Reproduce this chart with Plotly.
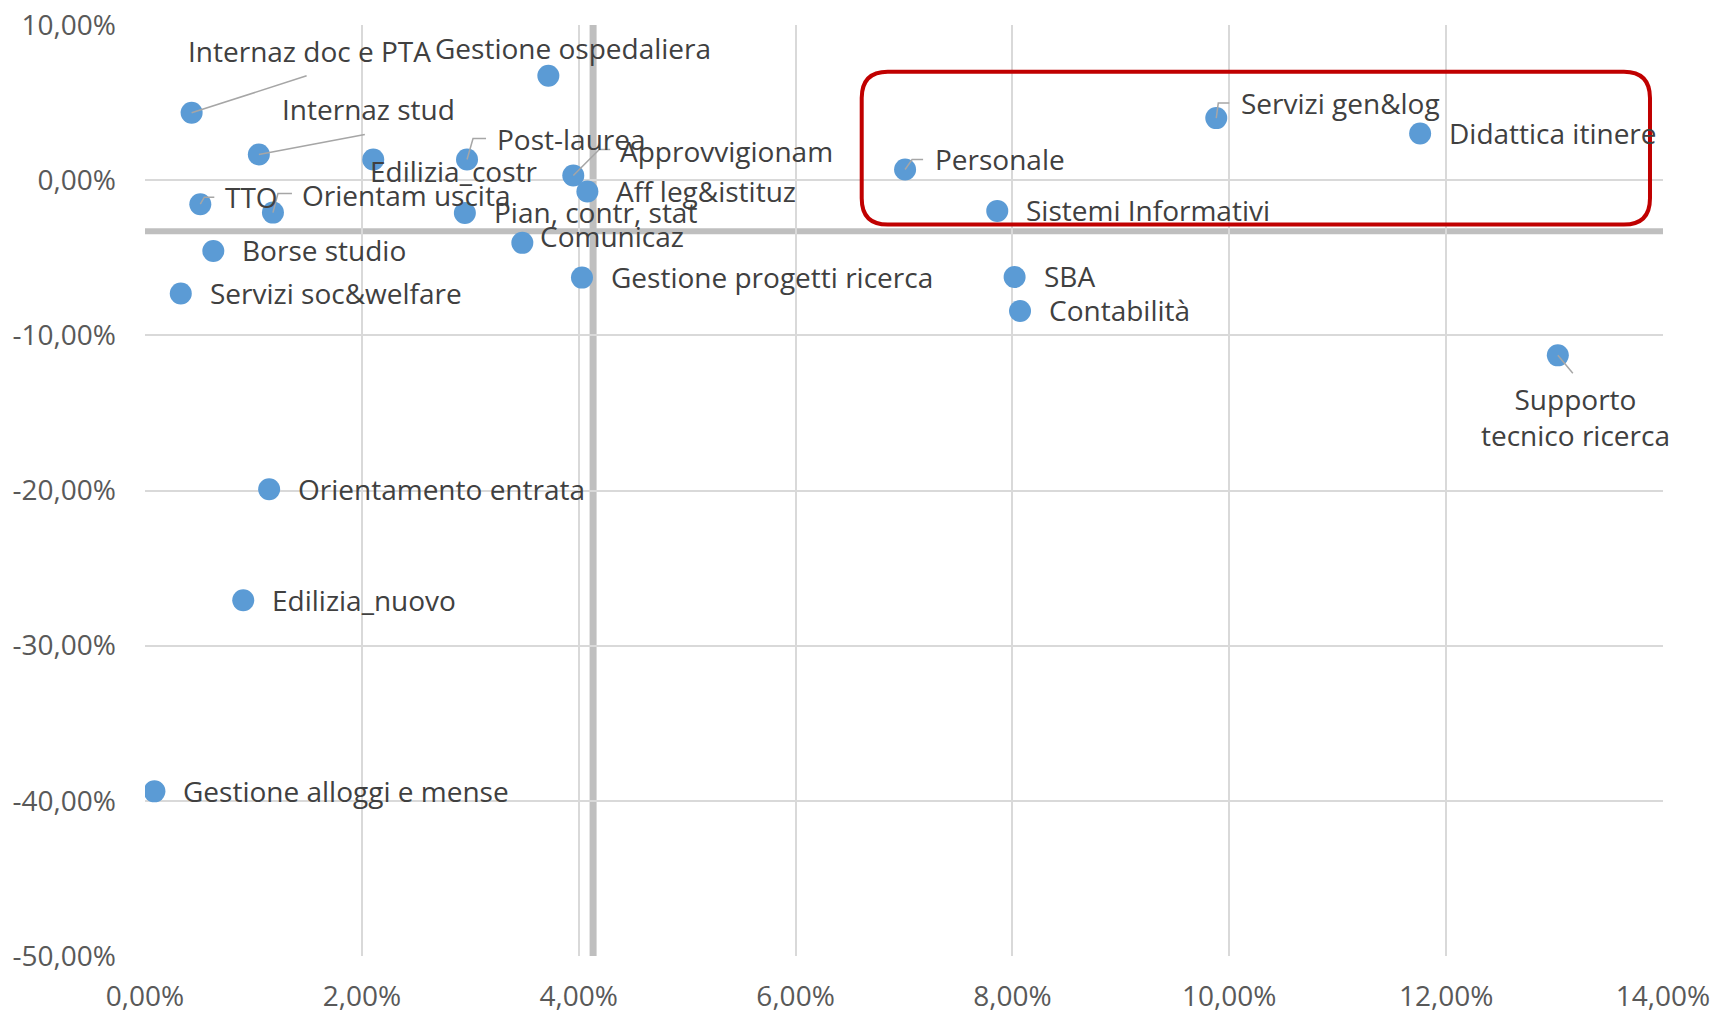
import numpy as np
import plotly.graph_objects as go

# ---------------- data ----------------
names = [
    "Internaz doc e PTA", "Gestione ospedaliera", "Internaz stud", "Post-laurea",
    "Edilizia_costr", "Approvvigionam", "Aff leg&istituz", "TTO",
    "Orientam uscita", "Pian, contr, stat", "Comunicaz", "Borse studio",
    "Servizi soc&welfare", "Gestione progetti ricerca", "Personale", "Servizi gen&log",
    "Didattica itinere", "Sistemi Informativi", "SBA", "Contabilità",
    "Supporto<br>tecnico ricerca", "Orientamento entrata", "Edilizia_nuovo",
    "Gestione alloggi e mense",
]
x_vals = [
    0.0043, 0.0372, 0.0105, 0.0297,
    0.02105, 0.0395, 0.0408, 0.0051,
    0.0118, 0.0295, 0.0348, 0.0063,
    0.0033, 0.0403, 0.0701, 0.0988,
    0.1176, 0.0786, 0.0802, 0.0807,
    0.1303, 0.01145, 0.00906, 0.00087,
]
y_vals = [
    0.0434, 0.0673, 0.0166, 0.0133,
    0.0133, 0.0030, -0.0073, -0.0155,
    -0.0209, -0.0211, -0.0404, -0.0456,
    -0.0731, -0.0628, 0.0069, 0.0400,
    0.0301, -0.0198, -0.0624, -0.0843,
    -0.1129, -0.1992, -0.2707, -0.3939,
]
y_ref = -0.033          # horizontal reference line
x_ticks = [0.0, 0.02, 0.04, 0.06, 0.08, 0.10, 0.12, 0.14]
y_ticks = [-0.5, -0.4, -0.3, -0.2, -0.1, 0.0, 0.1]

# ---------------- label layout (pixel offsets) ----------------
DEFAULT = dict(dx=27, dy=0.5, anchor="left", leader=None)
label_layout = {
    "Internaz doc e PTA": dict(dx=-6, dy=61.5, leader="M 0 0 L 115 37"),
    "Gestione ospedaliera": dict(dx=-115, dy=27.5),
    "Internaz stud": dict(dx=21, dy=45.5, leader="M 0 0 L 106 20"),
    "Post-laurea": dict(dx=28, dy=20.5, leader="M 0 0 L 6 21 L 19 21"),
    "Edilizia_costr": dict(dx=-5, dy=-11.5),
    "Approvvigionam": dict(dx=45, dy=24.5, leader="M 0 0 L 26 26 L 37 26"),
    "TTO": dict(dx=23, dy=7.5, leader="M 0 0 L 4 7 L 14 7"),
    "Orientam uscita": dict(dx=27, dy=17.5, leader="M 0 0 L 5 19 L 19 19"),
    "Comunicaz": dict(dx=16, dy=6.5),
    "Personale": dict(dx=28, dy=10.5, leader="M 0 0 L 7 10 L 18 10"),
    "Servizi gen&log": dict(dx=23, dy=15.5, leader="M 0 0 L 2 15 L 13 15"),
    "Supporto<br>tecnico ricerca": dict(dx=18, dy=-61.5, anchor="center",
                                        leader="M 0 0 L 15 -18"),
}

FONT = "Open Sans"
LABEL_COLOR = "#404040"
TICK_COLOR = "#595959"
GRID = "#D9D9D9"

fig = go.Figure()
fig.add_trace(go.Scatter(
    x=x_vals, y=y_vals, mode="markers",
    marker=dict(size=22, color="#5B9BD5", line=dict(width=0)),
    hovertext=names, hoverinfo="text", showlegend=False,
))

annotations = []
shapes = []

# reference lines
x_ref = float(np.mean(x_vals))
shapes.append(dict(type="line", xref="x", yref="paper", x0=x_ref, x1=x_ref, y0=0, y1=1,
                   line=dict(color="#BFBFBF", width=7), layer="below"))
shapes.append(dict(type="line", xref="paper", yref="y", x0=0, x1=1, y0=y_ref, y1=y_ref,
                   line=dict(color="#BFBFBF", width=6), layer="below"))

for n, xv, yv in zip(names, x_vals, y_vals):
    spec = dict(DEFAULT)
    spec.update(label_layout.get(n, {}))
    annotations.append(dict(
        x=xv, y=yv, xref="x", yref="y", text=n, showarrow=False,
        xanchor=spec["anchor"], yanchor="middle",
        xshift=spec["dx"], yshift=spec["dy"],
        font=dict(family=FONT, size=28, color=LABEL_COLOR),
        align="center",
    ))
    if spec["leader"]:
        shapes.append(dict(type="path", xref="x", yref="y",
                           xsizemode="pixel", ysizemode="pixel",
                           xanchor=xv, yanchor=yv, path=spec["leader"],
                           line=dict(color="#A6A6A6", width=1.5), layer="above"))

# red rounded highlight box (data coordinates)
bx0, bx1, by0, by1 = 0.0661, 0.1388, -0.0286, 0.0699
rx, ry = 0.0024, 0.017
box_path = (
    f"M {bx0+rx} {by1} L {bx1-rx} {by1} Q {bx1} {by1} {bx1} {by1-ry} "
    f"L {bx1} {by0+ry} Q {bx1} {by0} {bx1-rx} {by0} "
    f"L {bx0+rx} {by0} Q {bx0} {by0} {bx0} {by0+ry} "
    f"L {bx0} {by1-ry} Q {bx0} {by1} {bx0+rx} {by1} Z"
)
shapes.append(dict(type="path", xref="x", yref="y", path=box_path,
                   line=dict(color="#C00000", width=4), layer="above"))


def pct(v):
    return f"{v*100:.2f}".replace(".", ",") + "%"


fig.update_layout(
    template="none",
    width=1715, height=1013,
    margin=dict(l=145, r=52, t=25, b=57, autoexpand=False),
    plot_bgcolor="white", paper_bgcolor="white",
    font=dict(family=FONT, color=TICK_COLOR),
    shapes=shapes, annotations=annotations,
    xaxis=dict(range=[0, 0.14], tickvals=x_ticks, ticktext=[pct(v) for v in x_ticks],
               showgrid=True, gridcolor=GRID, gridwidth=1.5, zeroline=False,
               showline=False, ticks="", ticklabelstandoff=21, automargin=False,
               tickfont=dict(family=FONT, size=28, color=TICK_COLOR)),
    yaxis=dict(range=[-0.5, 0.1], tickvals=y_ticks, ticktext=[pct(v) for v in y_ticks],
               showgrid=True, gridcolor=GRID, gridwidth=1.5, zeroline=False,
               showline=False, ticks="", ticklabelstandoff=28, automargin=False,
               tickfont=dict(family=FONT, size=28, color=TICK_COLOR)),
    hovermode="closest",
)

fig.write_html("out.html", config={"displayModeBar": False},
               post_script="document.body.style.margin='0';")
